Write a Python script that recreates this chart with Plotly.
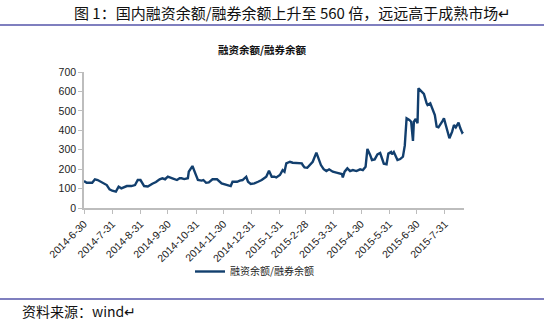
import plotly.graph_objects as go

dates = [
    "2014-06-30", "2014-07-03", "2014-07-09", "2014-07-12", "2014-07-15", "2014-07-20",
    "2014-07-25", "2014-07-28", "2014-07-31", "2014-08-04", "2014-08-07", "2014-08-10",
    "2014-08-16", "2014-08-21", "2014-08-25", "2014-08-28", "2014-08-31", "2014-09-04",
    "2014-09-08", "2014-09-13", "2014-09-17", "2014-09-21", "2014-09-24", "2014-09-27",
    "2014-09-30", "2014-10-05", "2014-10-10", "2014-10-13", "2014-10-15", "2014-10-18",
    "2014-10-22", "2014-10-23", "2014-10-26", "2014-10-27", "2014-10-31", "2014-11-02",
    "2014-11-06", "2014-11-08", "2014-11-11", "2014-11-14", "2014-11-18", "2014-11-23",
    "2014-11-28", "2014-12-01", "2014-12-05", "2014-12-08", "2014-12-10", "2014-12-15",
    "2014-12-18", "2014-12-21", "2014-12-25", "2014-12-27", "2014-12-30", "2015-01-03",
    "2015-01-07", "2015-01-11", "2015-01-16", "2015-01-19", "2015-01-22", "2015-01-25",
    "2015-01-27", "2015-01-31", "2015-02-03", "2015-02-05", "2015-02-07", "2015-02-11",
    "2015-02-14", "2015-02-18", "2015-02-24", "2015-02-25", "2015-02-27", "2015-03-02",
    "2015-03-07", "2015-03-08", "2015-03-12", "2015-03-14", "2015-03-17", "2015-03-20",
    "2015-03-23", "2015-03-26", "2015-03-30", "2015-04-03", "2015-04-09", "2015-04-10",
    "2015-04-12", "2015-04-15", "2015-04-18", "2015-04-21", "2015-04-25", "2015-04-29",
    "2015-05-02", "2015-05-05", "2015-05-07", "2015-05-10", "2015-05-12", "2015-05-15",
    "2015-05-18", "2015-05-21", "2015-05-23", "2015-05-25", "2015-05-28", "2015-05-30",
    "2015-06-02", "2015-06-03", "2015-06-05", "2015-06-08", "2015-06-09", "2015-06-12",
    "2015-06-15", "2015-06-17", "2015-06-19", "2015-06-22", "2015-06-24", "2015-06-26",
    "2015-06-27", "2015-06-29", "2015-07-01", "2015-07-02", "2015-07-05", "2015-07-08",
    "2015-07-11", "2015-07-12", "2015-07-15", "2015-07-18", "2015-07-20", "2015-07-22",
    "2015-07-24", "2015-07-28", "2015-07-30", "2015-08-01", "2015-08-03", "2015-08-05",
    "2015-08-08", "2015-08-10", "2015-08-12", "2015-08-14", "2015-08-15", "2015-08-17",
    "2015-08-19", "2015-08-20",
]

ratio = [
    139, 130, 130, 148, 144, 130,
    118, 96, 89, 84, 110, 101,
    113, 113, 118, 144, 144, 113,
    111, 125, 134, 148, 153, 148,
    161, 153, 144, 153, 153, 149,
    153, 187, 205, 216, 168, 144,
    141, 144, 130, 132, 148, 148,
    127, 122, 118, 113, 135, 135,
    141, 144, 161, 135, 124, 127,
    135, 144, 161, 192, 161, 161,
    157, 170, 195, 187, 230, 238,
    233, 233, 230, 221, 209, 207,
    233, 238, 285, 259, 221, 200,
    190, 199, 187, 182, 175, 157,
    187, 204, 190, 195, 190, 199,
    195, 212, 304, 273, 247, 250,
    276, 283, 259, 228, 225, 280,
    288, 276, 288, 262, 247, 252,
    264, 321, 462, 453, 444, 345,
    444, 458, 436, 616, 599, 587,
    539, 530, 539, 505, 479, 419,
    415, 444, 462, 427, 393, 359,
    393, 427, 415, 427, 439, 410,
    388, 393,
]

tick_dates = ["2014-06-30", "2014-07-31", "2014-08-31", "2014-09-30", "2014-10-31",
              "2014-11-30", "2014-12-31", "2015-01-31", "2015-02-28", "2015-03-31",
              "2015-04-30", "2015-05-31", "2015-06-30", "2015-07-31"]
tick_labels = ["2014-6-30", "2014-7-31", "2014-8-31", "2014-9-30", "2014-10-31",
               "2014-11-30", "2014-12-31", "2015-1-31", "2015-2-28", "2015-3-31",
               "2015-4-30", "2015-5-31", "2015-6-30", "2015-7-31"]

series_name = "融资余额/融券余额"
chart_title = "融资余额/融券余额"
header = "图 1：国内融资余额/融券余额上升至 560 倍，远远高于成熟市场↵"
source = "资料来源：wind↵"

W, H = 544, 329
L, R, T, B = 84, 80, 72, 121
pw, ph = W - L - R, H - T - B

def px(x):
    return (x - L) / pw

def py(y):
    return (H - B - y) / ph

fig = go.Figure()
fig.add_trace(go.Scatter(
    x=dates, y=ratio, mode="lines", name=series_name,
    line=dict(color="#123f6e", width=2.4),
))

fig.update_layout(
    width=W, height=H,
    margin=dict(l=L, r=R, t=T, b=B),
    paper_bgcolor="white", plot_bgcolor="white",
    font=dict(family="Arial, Liberation Sans, Noto Sans CJK SC", color="#222"),
    showlegend=True,
    legend=dict(orientation="h", x=px(190), y=py(257), xanchor="left", yanchor="top",
                font=dict(size=10, family="Noto Sans CJK SC", color="#222"),
                itemwidth=30, bgcolor="rgba(0,0,0,0)"),
    xaxis=dict(
        type="date", range=["2014-06-30", "2015-08-21"],
        tickvals=tick_dates, ticktext=tick_labels, tickangle=-45,
        tickfont=dict(size=10.5, family="Arial, Liberation Sans", color="#222"),
        showgrid=False, zeroline=False,
        showline=True, linecolor="#bdbdbd", linewidth=1.5,
        ticks="outside", ticklen=4, tickcolor="#bdbdbd",
    ),
    yaxis=dict(
        range=[0, 700], tickvals=[0, 100, 200, 300, 400, 500, 600, 700],
        tickfont=dict(size=10.5, family="Arial, Liberation Sans", color="#222"),
        showgrid=False, zeroline=False,
        showline=True, linecolor="#bdbdbd", linewidth=1.5,
        ticks="outside", ticklen=4, tickcolor="#bdbdbd",
    ),
    shapes=[
        dict(type="line", xref="paper", yref="paper", x0=px(0), x1=px(W), y0=py(25), y1=py(25),
             line=dict(color="#000080", width=1.2)),
        dict(type="line", xref="paper", yref="paper", x0=px(0), x1=px(W), y0=py(299), y1=py(299),
             line=dict(color="#000080", width=1.2)),
    ],
    annotations=[
        dict(text=header, xref="paper", yref="paper", x=px(292), y=py(12),
             xanchor="center", yanchor="middle", showarrow=False,
             font=dict(size=15, family="Noto Sans CJK SC", color="#111")),
        dict(text="<b>" + chart_title + "</b>", xref="paper", yref="paper", x=px(262), y=py(50),
             xanchor="center", yanchor="middle", showarrow=False,
             font=dict(size=10.5, family="Noto Sans CJK SC", color="#111")),
        dict(text=source, xref="paper", yref="paper", x=px(20), y=py(311),
             xanchor="left", yanchor="middle", showarrow=False,
             font=dict(size=14, family="Noto Sans CJK SC", color="#111")),
    ],
)

fig.write_html("out.html")
